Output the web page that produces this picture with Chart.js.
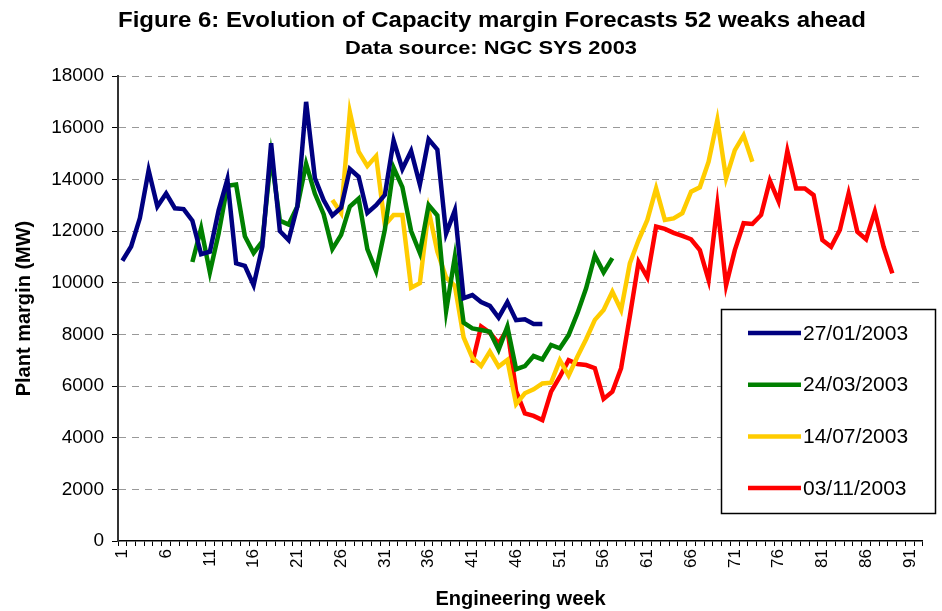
<!DOCTYPE html>
<html>
<head>
<meta charset="utf-8">
<script src="https://cdn.jsdelivr.net/npm/chart.js@4.4.1/dist/chart.umd.min.js"></script>
<style>
html,body{margin:0;padding:0;background:#fff;}
#wrap{width:942px;height:611px;position:relative;}
</style>
</head>
<body>
<div id="wrap"><canvas id="c" width="942" height="611"></canvas></div>
<script>
// ---- data ----
const weekCount = 92;
const weekLabels = Array.from({length: weekCount}, (_, i) => String(i + 1));

const seriesNames = ["27/01/2003", "24/03/2003", "14/07/2003", "03/11/2003"];
const seriesStart = [1, 9, 25, 41];

const jan27 = [10850, 11400, 12500, 14350, 12950, 13450, 12880, 12850, 12400, 11100,
  11200, 12800, 14000, 10750, 10650, 9900, 11400, 15400, 12000, 11650,
  12950, 17000, 14050, 13200, 12600, 12900, 14400, 14100, 12700, 13000,
  13400, 15500, 14400, 15100, 13800, 15550, 15150, 11900, 12800, 9400,
  9520, 9250, 9100, 8650, 9250, 8550, 8580, 8400, 8400];

const mar24 = [10800, 12100, 10400, 11900, 13750, 13800, 11800, 11150, 11600, 14900,
  12400, 12250, 12950, 14600, 13450, 12650, 11300, 11850, 12950, 13250,
  11300, 10450, 12050, 14450, 13700, 12000, 11150, 13000, 12600, 8900,
  11000, 8450, 8230, 8170, 8100, 7400, 8300, 6650, 6770, 7160,
  7030, 7590, 7460, 7970, 8810, 9780, 11050, 10400, 10950];

const jul14 = [13200, 12700, 16600, 15070, 14520, 14900, 12230, 12620, 12620, 9800,
  9980, 12800, 11200, 10200, 9880, 7880, 7100, 6780, 7330, 6750,
  7010, 5300, 5720, 5870, 6100, 6130, 7000, 6400, 7130, 7810,
  8560, 8940, 9650, 8940, 10750, 11650, 12430, 13650, 12430, 12490,
  12690, 13520, 13690, 14680, 16300, 14040, 15130, 15700, 14680];

const nov03 = [6900, 8300, 8060, 7650, 8200, 5800, 4940, 4840, 4680, 5780,
  6360, 7000, 6850, 6810, 6690, 5500, 5780, 6690, 8700, 10800,
  10200, 12170, 12080, 11930, 11810, 11680, 11260, 10100, 13000, 9900,
  11260, 12300, 12270, 12620, 13950, 13150, 15100, 13650, 13650, 13390,
  11650, 11390, 12040, 13450, 11970, 11680, 12750, 11390, 10360];

const yTicks = [0, 2000, 4000, 6000, 8000, 10000, 12000, 14000, 16000, 18000];

const seriesColors = ["#000080", "#008000", "#FFCC00", "#FF0000"];
const seriesValues = [jan27, mar24, jul14, nov03];

// place each forecast on the week axis
function placeSeries(start, values) {
  const arr = new Array(weekCount).fill(null);
  values.forEach((v, i) => { arr[start - 1 + i] = v; });
  return arr;
}

const datasets = seriesNames.map((name, k) => ({
  label: name,
  data: placeSeries(seriesStart[k], seriesValues[k]),
  borderColor: seriesColors[k],
  backgroundColor: seriesColors[k],
  borderWidth: 4.5,
  pointRadius: 0,
  pointHoverRadius: 0,
  tension: 0,
  fill: false,
  spanGaps: false,
  borderJoinStyle: 'miter',
  borderCapStyle: 'butt'
}));

const FONT = "'Liberation Sans', Arial, sans-serif";

function drawFitted(ctx, text, cx, cy, font, targetWidth) {
  ctx.font = font;
  const w = ctx.measureText(text).width;
  const sx = targetWidth / w;
  ctx.save();
  ctx.translate(cx, cy);
  ctx.scale(sx, 1);
  ctx.fillText(text, 0, 0);
  ctx.restore();
}

// titles plugin
const titlesPlugin = {
  id: 'titles',
  afterDraw(chart) {
    const ctx = chart.ctx;
    ctx.save();
    ctx.fillStyle = '#000';
    ctx.textAlign = 'center';
    ctx.textBaseline = 'middle';
    drawFitted(ctx, "Figure 6: Evolution of Capacity margin Forecasts 52 weaks ahead", 492, 21, "bold 22px " + FONT, 748);
    drawFitted(ctx, "Data source: NGC SYS 2003", 491, 49, "bold 18px " + FONT, 292);
    ctx.restore();
  }
};

// legend box plugin
const legendBoxPlugin = {
  id: 'legendBox',
  afterDraw(chart) {
    const ctx = chart.ctx;
    const x0 = 721, y0 = 309, x1 = 935, y1 = 513;
    ctx.save();
    ctx.fillStyle = '#fff';
    ctx.fillRect(x0, y0, x1 - x0, y1 - y0);
    ctx.strokeStyle = '#000';
    ctx.lineWidth = 1.5;
    ctx.strokeRect(x0 + 0.5, y0 + 0.5, x1 - x0, y1 - y0);
    ctx.font = "21px " + FONT;
    ctx.textAlign = 'left';
    ctx.textBaseline = 'middle';
    chart.data.datasets.forEach((ds, i) => {
      const y = 333 + i * 51.7;
      ctx.strokeStyle = ds.borderColor;
      ctx.lineWidth = 4.5;
      ctx.beginPath();
      ctx.moveTo(748, y);
      ctx.lineTo(801, y);
      ctx.stroke();
      ctx.fillStyle = '#000';
      ctx.fillText(ds.label, 803, y + 1);
    });
    ctx.restore();
  }
};

new Chart(document.getElementById('c'), {
  type: 'line',
  data: { labels: weekLabels, datasets: datasets },
  options: {
    responsive: false,
    animation: false,
    events: [],
    layout: { padding: { top: 76, right: 3, left: 0, bottom: 0 } },
    plugins: {
      legend: { display: false },
      title: { display: false },
      tooltip: { enabled: false }
    },
    scales: {
      x: {
        type: 'category',
        offset: true,
        afterFit(scale) { scale.height = 70; },
        grid: {
          offset: true,
          drawOnChartArea: false,
          drawTicks: true,
          tickLength: 5,
          color: '#000',
          tickColor: '#000',
          lineWidth: 1
        },
        border: { display: true, color: '#000', width: 1.5 },
        ticks: {
          autoSkip: false,
          maxRotation: 90,
          minRotation: 90,
          padding: 3,
          color: '#000',
          font: { family: FONT, size: 17 },
          callback(v, i) { return i % 5 === 0 ? weekLabels[i] : ''; }
        },
        title: {
          display: true,
          text: 'Engineering week',
          color: '#000',
          font: { family: FONT, size: 20, weight: 'bold' },
          padding: { top: 0, bottom: 0 }
        }
      },
      y: {
        min: 0,
        max: 18000,
        afterFit(scale) { scale.width = 118; },
        afterBuildTicks(scale) { scale.ticks = yTicks.map(v => ({ value: v })); },
        grid: {
          color: (c) => c.tick && c.tick.value === 0 ? 'rgba(0,0,0,0)' : '#999',
          lineWidth: 1,
          drawTicks: true,
          tickLength: 6,
          tickColor: '#000',
          tickBorderDash: []
        },
        border: { display: true, color: '#333', width: 2, dash: [7, 6] },
        ticks: {
          padding: 8,
          color: '#000',
          font: { family: FONT, size: 19 },
          callback(v) { return String(v); }
        },
        title: {
          display: true,
          text: 'Plant margin (MW)',
          color: '#000',
          font: { family: FONT, size: 20, weight: 'bold' },
          padding: { top: 12, bottom: 0 }
        }
      }
    }
  },
  plugins: [titlesPlugin, legendBoxPlugin]
});
</script>
</body>
</html>
